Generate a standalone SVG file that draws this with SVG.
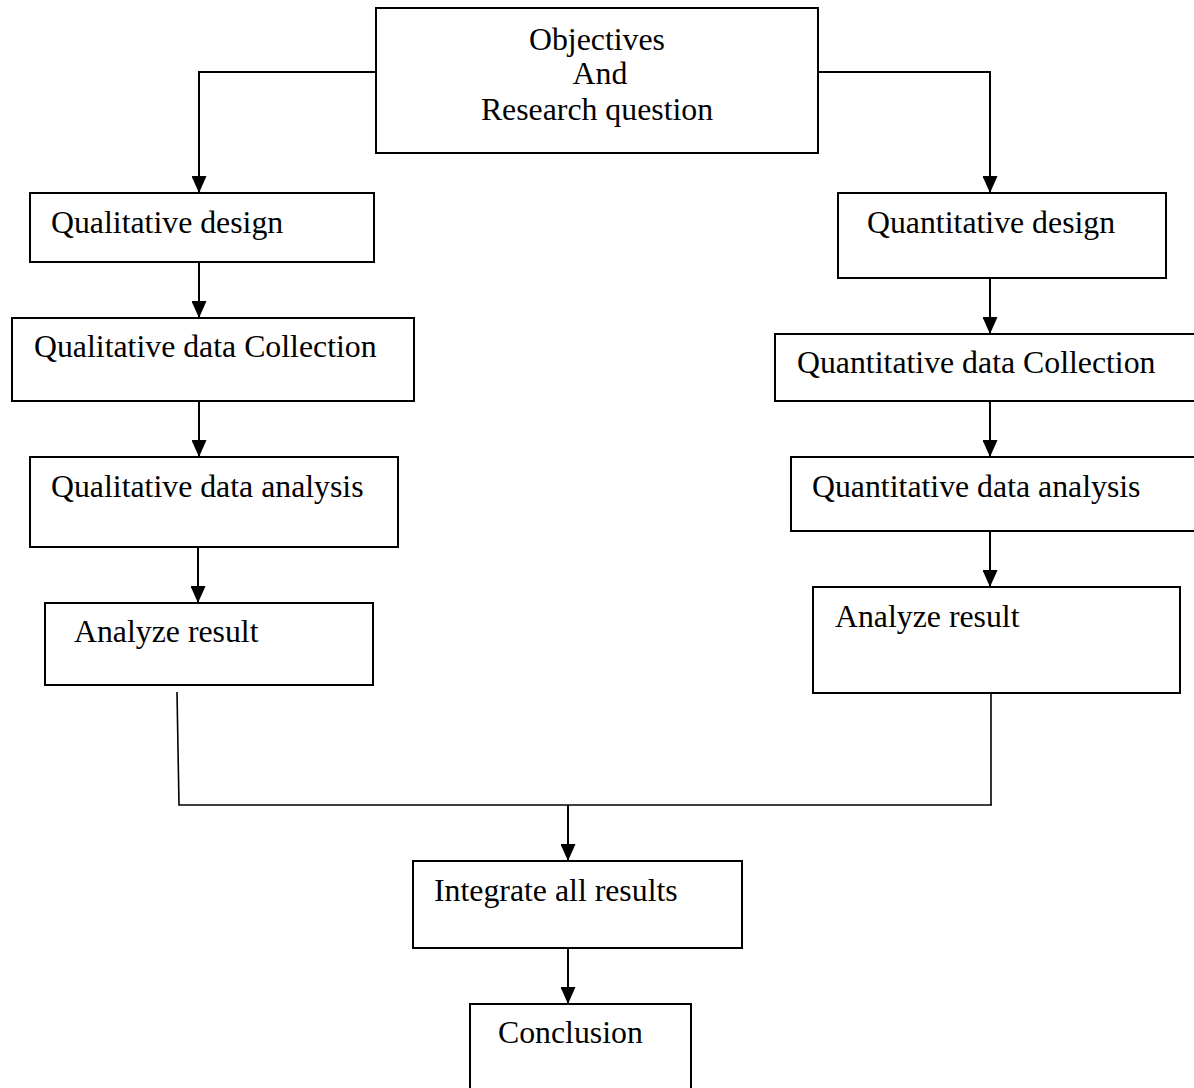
<svg xmlns="http://www.w3.org/2000/svg" width="1194" height="1088" viewBox="0 0 1194 1088">
<style>
.box{fill:#fff;stroke:#000;stroke-width:2}
.t{font-family:"Liberation Serif","Times New Roman",serif;font-size:31.8px;fill:#000}
.c{fill:none;stroke:#000;stroke-width:2}
.m{fill:none;stroke:#000;stroke-width:1.6}
</style>
<defs>
<marker id="ah" viewBox="0 0 10 10" refX="10" refY="5" markerWidth="17" markerHeight="15" markerUnits="userSpaceOnUse" orient="auto" preserveAspectRatio="none">
<path d="M0,0 L10,5 L0,10 z" fill="#000"/>
</marker>
</defs>
<rect width="1194" height="1088" fill="#fff"/>
<g id="connectors">
<polyline class="c" points="376,72 199,72 199,193" marker-end="url(#ah)"/>
<polyline class="c" points="818,72 990,72 990,193" marker-end="url(#ah)"/>
<line class="c" x1="199" y1="262" x2="199" y2="318" marker-end="url(#ah)"/>
<line class="c" x1="199" y1="401" x2="199" y2="457" marker-end="url(#ah)"/>
<line class="c" x1="198" y1="547" x2="198" y2="603" marker-end="url(#ah)"/>
<line class="c" x1="990" y1="278" x2="990" y2="334" marker-end="url(#ah)"/>
<line class="c" x1="990" y1="401" x2="990" y2="457" marker-end="url(#ah)"/>
<line class="c" x1="990" y1="531" x2="990" y2="587" marker-end="url(#ah)"/>
<polyline class="m" points="177,692 179,805 992,805"/>
<line class="m" x1="991" y1="693" x2="991" y2="805"/>
<line class="c" x1="568" y1="805" x2="568" y2="861" marker-end="url(#ah)"/>
<line class="c" x1="568" y1="948" x2="568" y2="1004" marker-end="url(#ah)"/>
</g>
<g id="objectives">
<rect class="box" x="376" y="8" width="442" height="145"/>
<text class="t" x="597" y="50" text-anchor="middle">Objectives</text>
<text class="t" x="600" y="84" text-anchor="middle">And</text>
<text class="t" x="597" y="120" text-anchor="middle">Research question</text>
</g>
<g id="qual-design">
<rect class="box" x="30" y="193" width="344" height="69"/>
<text class="t" x="51" y="233">Qualitative design</text>
</g>
<g id="qual-collection">
<rect class="box" x="12" y="318" width="402" height="83"/>
<text class="t" x="34" y="357">Qualitative data Collection</text>
</g>
<g id="qual-analysis">
<rect class="box" x="30" y="457" width="368" height="90"/>
<text class="t" x="51" y="497">Qualitative data analysis</text>
</g>
<g id="qual-result">
<rect class="box" x="45" y="603" width="328" height="82"/>
<text class="t" x="74" y="642">Analyze result</text>
</g>
<g id="quant-design">
<rect class="box" x="838" y="193" width="328" height="85"/>
<text class="t" x="867" y="233">Quantitative design</text>
</g>
<g id="quant-collection">
<rect class="box" x="775" y="334" width="425" height="67"/>
<text class="t" x="797" y="373">Quantitative data Collection</text>
</g>
<g id="quant-analysis">
<rect class="box" x="791" y="457" width="409" height="74"/>
<text class="t" x="812" y="497">Quantitative data analysis</text>
</g>
<g id="quant-result">
<rect class="box" x="813" y="587" width="367" height="106"/>
<text class="t" x="835" y="627">Analyze result</text>
</g>
<g id="integrate">
<rect class="box" x="413" y="861" width="329" height="87"/>
<text class="t" x="434" y="901">Integrate all results</text>
</g>
<g id="conclusion">
<rect class="box" x="470" y="1004" width="221" height="100"/>
<text class="t" x="498" y="1043">Conclusion</text>
</g>
</svg>
